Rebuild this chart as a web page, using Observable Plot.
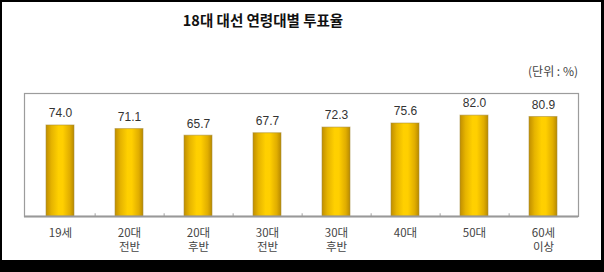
<!DOCTYPE html>
<html>
<head>
<meta charset="utf-8">
<script src="https://cdn.jsdelivr.net/npm/d3@7"></script>
<script src="https://cdn.jsdelivr.net/npm/@observablehq/plot@0.6"></script>
<style>
  html, body { margin: 0; padding: 0; background: #fff; }
  #wrap { position: relative; width: 604px; height: 272px; overflow: hidden; background: #fff;
          font-family: "Noto Sans CJK KR", "Noto Sans", sans-serif; }
  #border { position: absolute; left: 0; top: 0; width: 604px; height: 272px; box-sizing: border-box;
            border-style: solid; border-color: #000; border-width: 2px 3px 12px 2px; pointer-events: none; }
  #title { position: absolute; left: 263px; top: 10px; transform: translateX(-50%); white-space: nowrap;
           font-size: 14.5px; font-weight: bold; color: #111; line-height: 20px; }
  #unit { position: absolute; right: 26px; top: 63px; font-size: 12px; color: #444; line-height: 16px; white-space: nowrap; }
  #chart { position: absolute; left: 0; top: 80px; }
</style>
</head>
<body>
<div id="wrap">
  <div id="title">18대 대선 연령대별 투표율</div>
  <div id="unit">(단위 : %)</div>
  <div id="chart"></div>
  <div id="border"></div>
</div>
<script>
const categories = ["19세", "20대\n전반", "20대\n후반", "30대\n전반", "30대\n후반", "40대", "50대", "60세\n이상"];
const values = [74.0, 71.1, 65.7, 67.7, 72.3, 75.6, 82.0, 80.9];
const valueLabels = ["74.0", "71.1", "65.7", "67.7", "72.3", "75.6", "82.0", "80.9"];

const data = categories.map((c, i) => ({category: c, value: values[i], label: valueLabels[i]}));

const W = 604, mL = 24, mR = 26;
const step = (W - mL - mR) / categories.length;

const gradientDefs = () => {
  const g = d3.create("svg:g");
  const lg = g.append("defs").append("linearGradient")
    .attr("id", "barGrad").attr("x1", 0).attr("x2", 1).attr("y1", 0).attr("y2", 0);
  [[0, "#c08e00"], [0.2, "#e6b400"], [0.45, "#ffd000"], [0.6, "#ffcf00"], [0.85, "#e0ad00"], [1, "#b88a00"]]
    .forEach(([o, c]) => lg.append("stop").attr("offset", o).attr("stop-color", c));
  return g.node();
};

const plot = Plot.plot({
  width: W,
  height: 180,
  marginLeft: mL,
  marginRight: mR,
  marginTop: 13,
  marginBottom: 44,
  x: {domain: categories, paddingInner: 0.6, paddingOuter: 0.3, align: 0.5},
  y: {domain: [0, 100], axis: null},
  style: {fontFamily: "'Noto Sans CJK KR', sans-serif", background: "transparent"},
  marks: [
    gradientDefs,
    Plot.frame({stroke: "#9c9c9c", strokeWidth: 1.2}),
    Plot.barY(data, {x: "category", y: "value", fill: "url(#barGrad)", stroke: "#a68a3a", strokeOpacity: 0.55, strokeWidth: 1}),
    Plot.ruleX(categories.slice(0, -1), {x: d => d, y1: 0, y2: 2.2, dx: step / 2, stroke: "#a0a0a0", strokeWidth: 1}),
    Plot.ruleY([0], {stroke: "#999", strokeWidth: 2}),
    Plot.text(data, {x: "category", y: "value", text: "label", dy: -12, fontSize: 12, fill: "#333", fontFamily: "'Liberation Sans', Arial, sans-serif"}),
    Plot.axisX({tickSize: 0, tickPadding: 11, fontSize: 11.5, lineHeight: 1.2, fill: "#444", label: null})
  ]
});
document.getElementById("chart").appendChild(plot);
</script>
</body>
</html>
